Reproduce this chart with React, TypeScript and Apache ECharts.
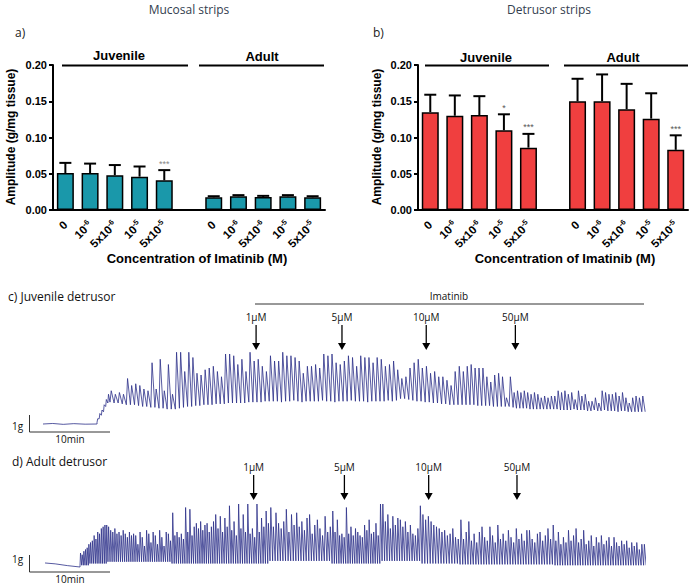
import React, { useEffect, useRef } from "react";
import * as echarts from "echarts";

// ---------- bar charts (a, b) ----------
const doseLabels = ["0", "10^-6", "5x10^-6", "10^-5", "5x10^-5"];
const mucosalJuvenileMean = [0.051, 0.051, 0.048, 0.046, 0.041];
const mucosalJuvenileSem = [0.014, 0.013, 0.014, 0.014, 0.014];
const mucosalJuvenileStars = ["", "", "", "", "***"];
const mucosalAdultMean = [0.0175, 0.019, 0.018, 0.019, 0.0175];
const mucosalAdultSem = [0.0015, 0.0015, 0.0015, 0.0015, 0.0015];
const mucosalAdultStars = ["", "", "", "", ""];
const detrusorJuvenileMean = [0.135, 0.13, 0.131, 0.11, 0.086];
const detrusorJuvenileSem = [0.024, 0.028, 0.026, 0.022, 0.019];
const detrusorJuvenileStars = ["", "", "", "*", "***"];
const detrusorAdultMean = [0.15, 0.15, 0.139, 0.126, 0.083];
const detrusorAdultSem = [0.031, 0.037, 0.035, 0.035, 0.02];
const detrusorAdultStars = ["", "", "", "", "***"];
const yTicks = [0, 0.05, 0.1, 0.15, 0.2];

// ---------- traces (c, d) : time in min, tension in g ----------
const juvenileRest = [[0, 0], [1.2, 0.03], [2.5, -0.02], [3.8, 0.02], [5.2, -0.01], [6.67, 0]];
const juvenileSegmentBounds = [6.67, 8.27, 28.93, 51.73, 58.02, 74.32];
const juvenilePeaks = [
  [0.3, 0.6, 0.8, 1.1, 1.4, 1.7],
  [1.9, 1.7, 1.8, 1.7, 2.6, 2.2, 2.3, 2.2, 2.0, 1.9, 3.5, 2.0, 3.7, 1.9, 3.4, 1.7, 4.1, 4.1, 3.0, 4.1,
   3.8, 2.9, 2.8, 3.1, 3.2, 3.3, 3.0, 2.7, 4.0, 4.0, 3.9, 3.4, 3.7, 3.0, 4.1, 3.6, 3.7, 3.3, 3.0, 3.9, 3.6],
  [3.6, 4.1, 3.9, 3.9, 3.8, 3.6, 2.9, 3.3, 3.3, 3.4, 3.2, 4.0, 3.9, 4.0, 3.5, 3.4, 3.6, 3.9, 3.8, 3.3,
   3.9, 3.8, 3.8, 3.5, 3.8, 3.7, 3.3, 3.4, 3.6, 3.1, 2.6, 2.7, 3.2, 3.5, 3.7, 3.2, 3.3, 2.9, 3.0, 2.7,
   2.7, 2.5, 2.2, 3.0, 3.3],
  [3.0, 3.3, 3.4, 3.2, 3.2, 3.2, 2.7, 2.4, 2.8, 2.9, 2.7, 1.5, 2.7],
  [1.8, 1.9, 1.8, 1.9, 1.8, 1.7, 1.8, 1.7, 1.5, 1.6, 1.5, 1.6, 1.6, 1.9, 1.8, 1.9, 1.7, 1.8, 1.4, 1.9,
   1.6, 1.7, 1.3, 1.3, 1.5, 1.2, 1.9, 1.8, 1.7, 1.7, 1.8, 1.6, 1.8, 1.5, 1.2, 1.5, 1.6, 1.5, 1.6],
];
const juvenileTroughs = [
  [0.1, 0.3, 0.5, 0.7, 1.0, 1.2],
  [1.25, 1.2, 1.2, 1.15, 1.1, 1.1, 1.1, 1.05, 1.0, 1.0, 0.95, 0.95, 0.9, 0.9, 0.85, 0.85, 0.85, 0.9, 0.95, 1.0,
   1.0, 1.05, 1.05, 1.1, 1.1, 1.1, 1.15, 1.15, 1.15, 1.2, 1.2, 1.2, 1.2, 1.2, 1.25, 1.25, 1.25, 1.25, 1.3, 1.3, 1.3],
  [1.3, 1.25, 1.3, 1.3, 1.35, 1.3, 1.25, 1.3, 1.3, 1.3, 1.3, 1.35, 1.3, 1.3, 1.25, 1.3, 1.3, 1.3, 1.35, 1.3,
   1.3, 1.3, 1.25, 1.3, 1.3, 1.3, 1.3, 1.35, 1.3, 1.35, 1.45, 1.45, 1.4, 1.35, 1.3, 1.3, 1.25, 1.25, 1.2, 1.2,
   1.15, 1.15, 1.1, 1.1, 1.1],
  [1.1, 1.1, 1.1, 1.1, 1.05, 1.05, 1.05, 1.05, 1.0, 1.0, 1.0, 1.0, 1.0],
  [0.95, 0.9, 0.9, 0.9, 0.9, 0.85, 0.85, 0.85, 0.85, 0.85, 0.85, 0.85, 0.85, 0.85, 0.8, 0.8, 0.8, 0.8, 0.85, 0.8,
   0.8, 0.8, 0.75, 0.75, 0.8, 0.75, 0.75, 0.8, 0.75, 0.75, 0.75, 0.7, 0.75, 0.75, 0.7, 0.7, 0.7, 0.7, 0.7],
];

const adultRest = [[0.25, 0.23], [1.5, 0.18], [3.0, 0.08], [4.57, 0]];
const adultSegmentBounds = [4.57, 5.8, 8.02, 11.36, 15.93, 21.23, 28.02, 35.68, 41.85, 46.79, 51.48, 63.2, 74.44];
const adultSegmentBase = [0.1, 0.2, 0.3, 0.3, 0.2, 0.2, 0.35, 0.2, 0.35, 0.2, 0.15, 0.1];
const adultPeaks = [
  [0.8, 0.7, 0.9, 1.0, 1.1, 1.3],
  [1.4, 1.5, 1.8, 1.6, 2.0, 1.9, 2.2, 2.3, 2.4, 2.4],
  [2.3, 2.1, 2.0, 2.2, 1.9, 2.0, 1.8, 2.1, 1.9, 1.7, 2.0, 1.8, 1.9],
  [1.8, 1.3, 2.0, 1.7, 1.2, 2.1, 1.9, 1.4, 2.0, 1.8, 1.3, 2.1, 1.7, 1.2, 2.0, 1.9, 1.5],
  [3.1, 1.8, 2.0, 1.7, 1.9, 1.6, 3.4, 2.0, 3.3, 1.8, 2.3, 2.5, 2.2, 2.6, 2.1, 2.4, 2.5, 2.0, 2.3, 2.6],
  [3.0, 2.2, 2.9, 2.0, 2.8, 2.3, 3.5, 2.1, 2.6, 1.8, 3.6, 2.2, 3.0, 2.0, 3.6, 1.9, 2.2, 1.7, 3.6, 2.0, 2.8, 2.3, 3.2, 2.5],
  [3.4, 2.3, 3.1, 2.5, 2.2, 2.6, 3.3, 2.0, 3.0, 2.4, 3.1, 2.3, 2.6, 2.1, 2.8, 3.0, 1.9, 2.4, 2.7, 2.2, 1.8, 2.9, 2.0, 2.3],
  [3.2, 2.0, 2.7, 1.8, 1.9, 1.7, 3.4, 1.9, 2.3, 1.8, 2.2, 2.0, 1.8, 1.7, 2.4, 2.1, 2.7, 1.9, 2.0, 2.5, 1.8, 3.6],
  [3.6, 2.6, 3.0, 2.2, 2.9, 2.4, 2.8, 2.7, 2.3, 2.6, 2.0, 2.4, 1.9, 1.8, 2.2, 3.5],
  [3.0, 2.7, 2.9, 2.6, 2.4, 2.3, 2.2, 2.0, 2.1, 1.8, 1.9, 2.2, 1.7, 1.6],
  [2.7, 1.6, 2.0, 2.6, 1.5, 1.9, 1.4, 2.0, 2.3, 1.7, 1.5, 2.3, 1.8, 1.4, 2.4, 1.6, 1.9, 1.5, 2.1, 1.7,
   1.4, 2.2, 1.6, 1.9, 1.5, 2.1, 2.1, 1.6, 1.4, 1.9, 2.0, 1.5, 1.8, 2.2, 1.6, 2.4],
  [1.5, 2.0, 1.3, 1.7, 1.4, 2.1, 1.5, 1.8, 2.2, 1.4, 1.6, 2.1, 1.3, 1.5, 1.8, 1.2, 1.7, 1.4, 1.8, 1.3,
   1.5, 1.7, 1.2, 1.7, 1.4, 1.2, 1.5, 1.3, 1.5, 1.1, 1.4, 1.2, 1.4, 1.0, 1.3, 1.3],
];

const doseMarks = ["1\u03bcM", "5\u03bcM", "10\u03bcM", "50\u03bcM"];
const juvenileDoseTimes = [26.3, 36.9, 47.3, 58.3];
const adultDoseTimes = [26.0, 37.2, 47.6, 58.5];

// ---------- styling ----------
const FONT_B = '"Liberation Sans", Arial, sans-serif';
const FONT_S = '"Open Sans", "Noto Sans", sans-serif';
const TEAL = "#1a98aa";
const RED = "#f03f3f";
const TRACE = "#2c3089";

function buildTrace(rest: number[][], bounds: number[], troughs: any[], peaks: number[][]) {
  const pts: number[][] = rest.map((p) => [p[0], p[1]]);
  let lastBase = 0;
  peaks.forEach((seg, s) => {
    const start = bounds[s];
    const end = bounds[s + 1];
    const dt = (end - start) / seg.length;
    seg.forEach((pk, i) => {
      const b = Array.isArray(troughs[s]) ? troughs[s][i] : troughs[s];
      pts.push([start + i * dt, b]);
      pts.push([start + (i + 0.3) * dt, pk]);
      lastBase = b;
    });
  });
  pts.push([bounds[bounds.length - 1], lastBase]);
  return pts;
}

function tickFormatter(v: string) {
  const m = v.match(/^(.*)\^(.*)$/);
  return m ? `{b|${m[1]}}{s|${m[2]}}` : `{b|${v}}`;
}

function barPanel(idx: number, jm: number[], js: number[], jst: string[], am: number[], as: number[], ast: string[], color: string, starColor: string) {
  const cats = [...doseLabels, "", ...doseLabels];
  const barData: any[] = [...jm, "-", ...am];
  const errData: number[][] = [];
  const stars: string[] = [];
  jm.forEach((m, i) => { errData.push([i, m, js[i]]); stars.push(jst[i]); });
  am.forEach((m, i) => { errData.push([i + jm.length + 1, m, as[i]]); stars.push(ast[i]); });
  const xAxis = {
    gridIndex: idx, type: "category", data: cats,
    axisLine: { lineStyle: { color: "#000", width: 2 } },
    axisTick: { show: false },
    axisLabel: {
      interval: 0, rotate: 45, margin: 13, hideOverlap: false,
      formatter: tickFormatter,
      rich: {
        b: { fontSize: 11.5, fontWeight: "bold", fontFamily: FONT_B, color: "#000", lineHeight: 14 },
        s: { fontSize: 7.5, fontWeight: "bold", fontFamily: FONT_B, color: "#000", lineHeight: 8, verticalAlign: "top" },
      },
    },
  };
  const yAxis = {
    gridIndex: idx, type: "value", min: yTicks[0], max: yTicks[yTicks.length - 1], interval: yTicks[1] - yTicks[0],
    axisLine: { show: true, lineStyle: { color: "#000", width: 2 } },
    axisTick: { show: true, length: 4, lineStyle: { color: "#000", width: 2 } },
    splitLine: { show: false },
    axisLabel: { formatter: (v: number) => v.toFixed(2), fontWeight: "bold", fontSize: 11, fontFamily: FONT_B, color: "#000", margin: 6 },
  };
  const series = [
    {
      type: "bar", xAxisIndex: idx, yAxisIndex: idx, data: barData, barWidth: 17, z: 2,
      itemStyle: { color, borderColor: "#000", borderWidth: 1.5 },
    },
    {
      type: "custom", xAxisIndex: idx, yAxisIndex: idx, data: errData, z: 3,
      renderItem: (params: any, api: any) => {
        const x = api.value(0), m = api.value(1), e = api.value(2);
        const b = api.coord([x, m]);
        const t = api.coord([x, m + e]);
        const children: any[] = [
          { type: "line", shape: { x1: b[0], y1: b[1], x2: t[0], y2: t[1] }, style: { stroke: "#000", lineWidth: 2 } },
          { type: "line", shape: { x1: t[0] - 6, y1: t[1], x2: t[0] + 6, y2: t[1] }, style: { stroke: "#000", lineWidth: 2 } },
        ];
        const st = stars[params.dataIndex];
        if (st) {
          children.push({
            type: "text", x: t[0], y: t[1] - 2,
            style: { text: st, fill: starColor, font: `9px ${FONT_B}`, textAlign: "center", textVerticalAlign: "bottom", align: "center", verticalAlign: "bottom" },
          });
        }
        return { type: "group", children };
      },
    },
  ];
  return { xAxis, yAxis, series };
}

function text(x: number, y: number, t: string, font: string, align = "center", fill = "#000", rotation = 0) {
  return {
    type: "text", x, y, rotation,
    style: { text: t, font, fill, textAlign: align, textVerticalAlign: "middle", align, verticalAlign: "middle" },
  };
}
function line(x1: number, y1: number, x2: number, y2: number, w = 2, c = "#000") {
  return { type: "line", shape: { x1, y1, x2, y2 }, style: { stroke: c, lineWidth: w } };
}

const ARROW = "path://M4.2 0 L5.8 0 L5.8 18 L10 18 L5 25 L0 18 L4.2 18 Z";

function traceSeries(idx: number, data: number[][], times: number[], tipLevel: number) {
  return {
    type: "line", xAxisIndex: idx, yAxisIndex: idx, data, showSymbol: false, symbol: "none", silent: true, clip: false,
    lineStyle: { color: TRACE, width: 0.8 },
    markPoint: {
      silent: true,
      symbol: ARROW, symbolSize: [8, 25], symbolOffset: [0, "-50%"],
      itemStyle: { color: "#000" },
      label: { show: true, position: "top", distance: 3, color: "#111", fontSize: 10, fontFamily: FONT_S },
      data: times.map((t, i) => ({ coord: [t, tipLevel], value: doseMarks[i], label: { formatter: doseMarks[i] } })),
    },
  };
}

export default function App() {
  const ref = useRef<HTMLDivElement>(null);
  useEffect(() => {
    const chart = echarts.init(ref.current!, null, { renderer: "svg" });
    const a = barPanel(0, mucosalJuvenileMean, mucosalJuvenileSem, mucosalJuvenileStars, mucosalAdultMean, mucosalAdultSem, mucosalAdultStars, TEAL, "#888");
    const b = barPanel(1, detrusorJuvenileMean, detrusorJuvenileSem, detrusorJuvenileStars, detrusorAdultMean, detrusorAdultSem, detrusorAdultStars, RED, "#555");
    const juvenileTrace = buildTrace(juvenileRest, juvenileSegmentBounds, juvenileTroughs, juvenilePeaks);
    const adultTrace = buildTrace(adultRest, adultSegmentBounds, adultSegmentBase, adultPeaks);
    const option: any = {
      animation: false,
      backgroundColor: "#fff",
      grid: [
        { left: 53, top: 65, width: 272, height: 145 },
        { left: 418, top: 65, width: 270, height: 145 },
        { left: 43, top: 340, width: 602, height: 91 },
        { left: 43, top: 493.5, width: 602, height: 80.5 },
      ],
      xAxis: [
        a.xAxis, b.xAxis,
        { gridIndex: 2, type: "value", min: 0, max: 74.3, show: false },
        { gridIndex: 3, type: "value", min: 0, max: 74.3, show: false },
      ],
      yAxis: [
        a.yAxis, b.yAxis,
        { gridIndex: 2, type: "value", min: -0.4, max: 4.8, show: false },
        { gridIndex: 3, type: "value", min: -0.4, max: 4.2, show: false },
      ],
      series: [
        ...a.series, ...b.series,
        traceSeries(2, juvenileTrace, juvenileDoseTimes, 4.23),
        traceSeries(3, adultTrace, adultDoseTimes, 3.83),
      ],
      graphic: [
        text(189, 9, "Mucosal strips", `12px ${FONT_S}`, "center", "#33404f"),
        text(549, 9, "Detrusor strips", `12px ${FONT_S}`, "center", "#33404f"),
        text(15, 32, "a)", `12px ${FONT_S}`, "left", "#222"),
        text(373, 32, "b)", `12px ${FONT_S}`, "left", "#222"),
        text(119, 55, "Juvenile", `bold 13px ${FONT_B}`),
        text(262, 56, "Adult", `bold 13px ${FONT_B}`),
        text(486, 57, "Juvenile", `bold 13px ${FONT_B}`),
        text(623, 57, "Adult", `bold 13px ${FONT_B}`),
        line(62, 65.5, 188, 65.5), line(199, 65.5, 324, 65.5),
        line(425, 65.5, 549, 65.5), line(564, 65.5, 688, 65.5),
        text(11, 137, "Amplitude (g/mg tissue)", `bold 12px ${FONT_B}`, "center", "#000", Math.PI / 2),
        text(377, 137, "Amplitude (g/mg tissue)", `bold 12px ${FONT_B}`, "center", "#000", Math.PI / 2),
        text(197, 258, "Concentration of Imatinib (M)", `bold 13px ${FONT_B}`),
        text(565, 258, "Concentration of Imatinib (M)", `bold 13px ${FONT_B}`),
        text(8, 296, "c) Juvenile detrusor", `12px ${FONT_S}`, "left", "#111"),
        text(449, 296, "Imatinib", `10px ${FONT_S}`, "center", "#111"),
        line(255, 304, 644, 304, 1, "#333"),
        text(12, 426, "1g", `10px ${FONT_S}`, "left", "#111"),
        line(29.5, 415, 29.5, 432, 1, "#333"), line(29.5, 432, 110, 432, 1, "#333"),
        text(70, 439, "10min", `10px ${FONT_S}`, "center", "#111"),
        text(12, 461, "d) Adult detrusor", `12px ${FONT_S}`, "left", "#111"),
        text(12, 559, "1g", `10px ${FONT_S}`, "left", "#111"),
        line(29.5, 555, 29.5, 572, 1, "#333"), line(29.5, 572, 110, 572, 1, "#333"),
        text(70, 579, "10min", `10px ${FONT_S}`, "center", "#111"),
      ],
    };
    chart.setOption(option);
    return () => chart.dispose();
  }, []);
  return <div ref={ref} style={{ position: "fixed", left: 0, top: 0, width: 692, height: 586, background: "#fff" }} />;
}
